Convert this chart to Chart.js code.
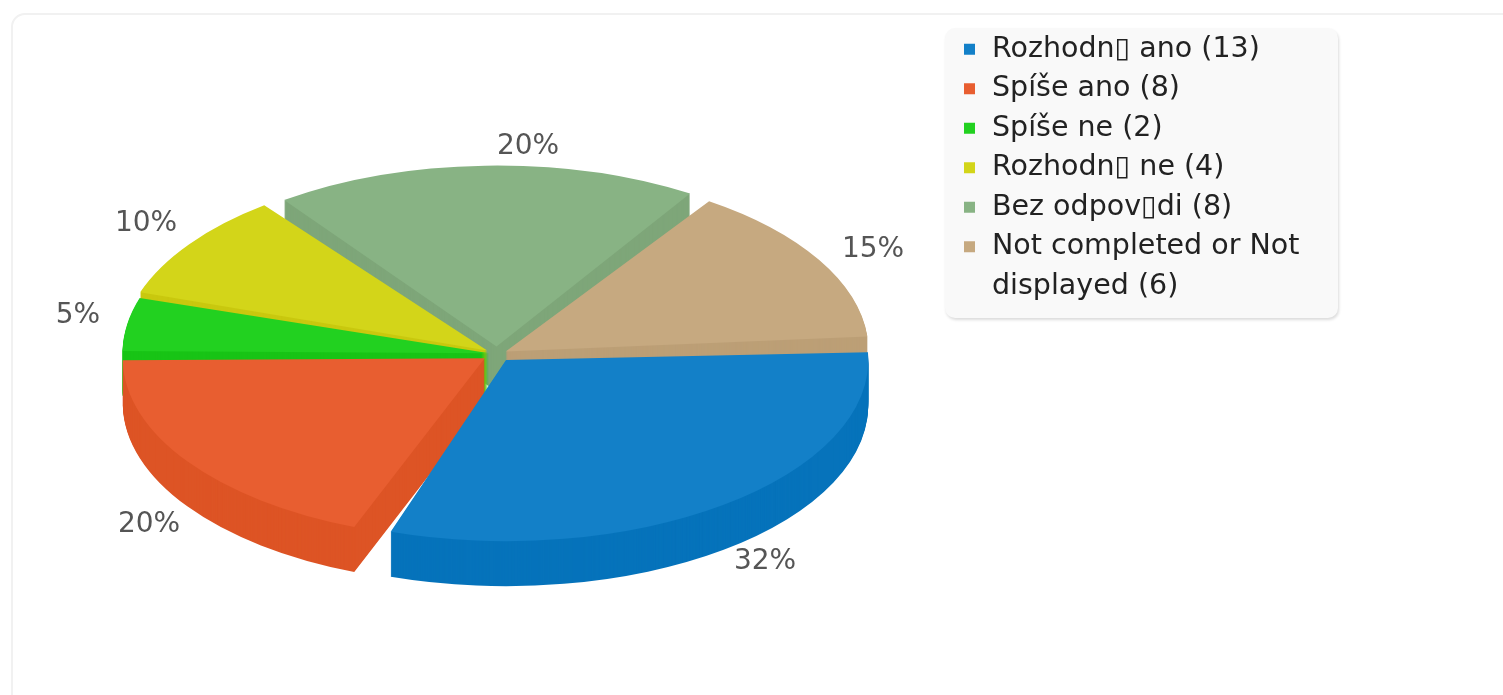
<!DOCTYPE html>
<html>
<head>
<meta charset="utf-8">
<style>
html,body{margin:0;padding:0;background:#fff;width:1503px;height:695px;overflow:hidden}
#card{position:absolute;left:11px;top:13px;width:1520px;height:740px;border:2px solid #f1f1f1;border-radius:14px;box-sizing:border-box;filter:blur(.6px)}
#legendBox{position:absolute;left:945px;top:28px;width:393px;height:290px;background:#f9f9f9;border-radius:10px;box-shadow:1px 2px 3px rgba(0,0,0,.14)}
canvas{position:absolute;left:0;top:0}
</style>
</head>
<body>
<div id="card"></div>
<div id="legendBox"></div>
<canvas id="c" width="1503" height="695"></canvas>
<script src="https://cdn.jsdelivr.net/npm/chart.js@4"></script>
<script>
const categories = ["Rozhodn\u25AF ano (13)","Spíše ano (8)","Spíše ne (2)","Rozhodn\u25AF ne (4)","Bez odpov\u25AFdi (8)",["Not completed or Not","displayed (6)"]];
const counts = [13,8,2,4,8,6];
const percentLabels = ["32%","20%","5%","10%","20%","15%"];
const topColors = ["#1380c8","#e85e30","#22d120","#d3d519","#88b384","#c6a980"];
const wallColors = ["#0673bb","#dd5425","#18c416","#c9c80f","#7ea679","#bc9f76"];
const explode = [60,60,32,48,60,40];
const paintOrder = [4,5,3,2,1,0];
const labelPos = [[765,562],[149,525],[78,316],[146,224],[528,147],[873,250]];

const centerX = 497, centerY = 354, tilt = 0.5, depth = 45;

const pie3d = {
  id:'pie3d',
  afterLayout(chart){
    const l = chart.legend;
    const w = l.right - l.left, h = l.bottom - l.top;
    l.left = 950.25; l.right = l.left + w;
    l.top = 24; l.bottom = l.top + h;
  },
  beforeDatasetsDraw(chart){
    const ctx = chart.ctx, arcs = chart.getDatasetMeta(0).data;
    paintOrder.forEach(i=>{
      const arc = arcs[i], base = arc.options;
      const paint = (dy,color)=>{
        ctx.save();
        ctx.translate(centerX, centerY + dy);
        ctx.scale(1, tilt);
        ctx.translate(-arc.x, -arc.y);
        arc.options = Object.assign({}, base, {backgroundColor:color, borderColor:color, borderWidth:0});
        arc.draw(ctx);
        ctx.restore();
      };
      for(let d = depth; d >= 1; d--) paint(d, wallColors[i]);
      paint(0, topColors[i]);
      arc.options = base;
    });
    return false;
  },
  afterDraw(chart){
    const ctx = chart.ctx;
    ctx.save();
    ctx.font = '28px "DejaVu Sans"';
    ctx.fillStyle = '#555';
    ctx.textAlign = 'center';
    ctx.textBaseline = 'middle';
    percentLabels.forEach((t,i)=>ctx.fillText(t, labelPos[i][0], labelPos[i][1]));
    ctx.restore();
  }
};

new Chart(document.getElementById('c'),{
  type:'pie',
  data:{labels:categories,datasets:[{data:counts,backgroundColor:topColors,borderWidth:0,offset:explode,spacing:10,radius:356,rotation:86}]},
  options:{
    responsive:false,animation:false,
    layout:{padding:0},
    plugins:{
      tooltip:{enabled:false},
      legend:{
        position:'right',align:'start',
        labels:{
          usePointStyle:true,pointStyle:'rect',boxWidth:16.5,boxHeight:11,
          padding:11,color:'#222',
          font:{family:'"DejaVu Sans"',size:28.5,lineHeight:39.5/28.5}
        }
      }
    }
  },
  plugins:[pie3d]
});
</script>
</body>
</html>
